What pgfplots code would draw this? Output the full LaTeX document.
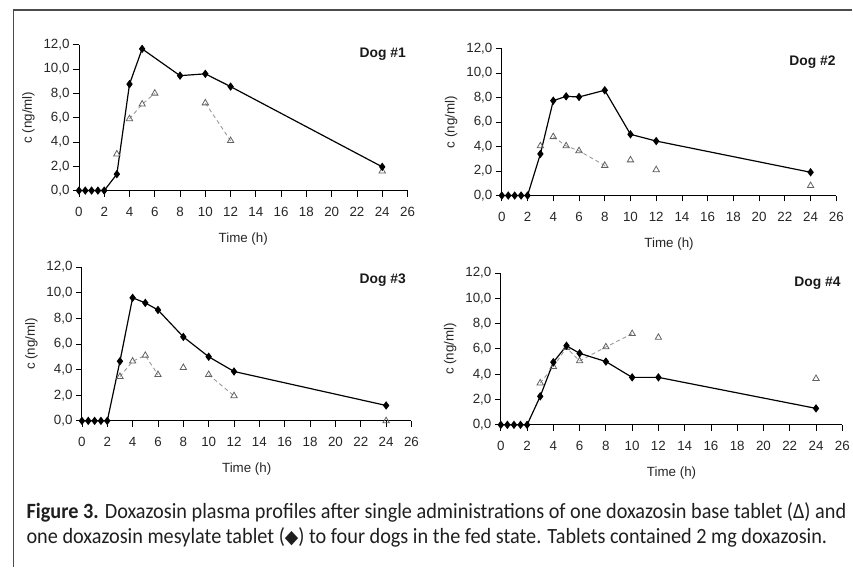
\documentclass[border=0pt]{standalone}
\usepackage{pgfplots}
\usepackage{pgfplotstable}
\pgfplotsset{compat=1.18}
\usepackage{fontspec}
\setmainfont{Liberation Sans}
\newfontfamily\capfont{Carlito}
\newfontfamily\symfont{DejaVu Sans}

% t = time (h), mes = mesylate tablet, base = base tablet, bl = visible parts of the base line
\pgfplotstableread{
t   mes   base  bl
0   0     nan   nan
0.5 0     nan   nan
1   0     nan   nan
1.5 0     nan   nan
2   0     nan   nan
3   1.35  3.0   nan
4   8.75  5.9   5.9
5   11.65 7.1   7.1
6   nan   8.0   8.0
8   9.45  nan   nan
10  9.6   7.2   7.2
12  8.55  4.1   4.1
24  1.95  1.6   nan
}\dogone
\pgfplotstableread{
t   mes   base  bl
0   0     nan   nan
0.5 0     nan   nan
1   0     nan   nan
1.5 0     nan   nan
2   0     nan   nan
3   3.4   4.05  nan
4   7.75  4.8   4.8
5   8.1   4.05  4.05
6   8.05  3.65  3.65
8   8.6   2.45  2.45
10  5.0   2.9   nan
12  4.45  2.1   nan
24  1.9   0.8   nan
}\dogtwo
\pgfplotstableread{
t   mes   base  bl
0   0     nan   nan
0.5 0     nan   nan
1   0     nan   nan
1.5 0     nan   nan
2   0     nan   nan
3   4.65  3.45  3.45
4   9.6   4.65  4.65
5   9.2   5.1   5.1
6   8.65  3.6   3.6
8   6.55  4.15  nan
10  5.0   3.6   3.6
12  3.85  1.95  1.95
24  1.2   0.0   nan
}\dogthree
\pgfplotstableread{
t   mes   base  bl
0   0     nan   nan
0.5 0     nan   nan
1   0     nan   nan
1.5 0     nan   nan
2   0     nan   nan
3   2.25  3.3   3.3
4   4.95  4.6   4.6
5   6.25  6.1   6.1
6   5.65  5.05  5.05
8   5.0   6.15  6.15
10  3.75  7.2   7.2
12  3.75  6.9   nan
24  1.3   3.65  nan
}\dogfour

\pgfplotsset{
  dog/.style={
    scale only axis, anchor=south west,
    xmin=0, xmax=26, ymin=0, ymax=12,
    xtick={0,2,...,26}, ytick={0,2,...,12},
    axis lines=left, axis line style={-, line width=0.9bp},
    tick align=outside, major tick length=6bp,
    tick style={black, line width=0.8bp},
    clip=false,
    ticklabel style={font=\fontsize{13.5}{13.5}\selectfont, text=black!85},
    x tick label style={/pgf/number format/assume math mode=true, yshift=-7bp},
    y tick label style={/pgf/number format/.cd, fixed, fixed zerofill, precision=1, use comma, assume math mode=true},
    xlabel={Time (h)}, ylabel={c (ng/ml)},
    every axis x label/.style={at={(axis description cs:0.5,0)}, anchor=center, yshift=-49bp,
      font=\fontsize{13.5}{13.5}\selectfont, text=black!85},
    every axis y label/.style={at={(axis description cs:0,0.5)}, anchor=center, xshift=-51bp, rotate=90,
      font=\fontsize{13.5}{13.5}\selectfont, text=black!85},
  },
  mes/.style={black, line width=1.2bp, mark=diamond*, mark size=3.3bp},
  base/.style={only marks, mark=triangle, mark size=3.7bp, draw=black!62, mark options={line width=0.8bp}},
  bl/.style={no marks, black!40, dash pattern=on 4bp off 3bp, line width=0.9bp, unbounded coords=jump},
}

\newlength\capw
\newcommand\capA{\textbf{Figure 3.} Doxazosin plasma profiles after single administrations of one doxazosin base tablet (Δ) and}
\newcommand\capB{one doxazosin mesylate tablet ({\symfont\fontsize{19}{19}\selectfont ◆}) to four dogs in the fed state. Tablets contained 2 mg doxazosin.}

\begin{document}
\settowidth\capw{\capfont\fontsize{22}{22}\selectfont\capA}
\pgfmathsetmacro\capsx{829.07/\capw}
\begin{tikzpicture}[x=1bp, y=1bp]
\path (0,0) rectangle (853,571);
\draw[black!70, line width=1.3bp] (8,0) -- (8,561) -- (853,561);

\begin{axis}[dog, at={(74bp,379bp)}, width=331bp, height=147bp]
\addplot[bl] table[x=t, y=bl] {\dogone};
\addplot[base] table[x=t, y=base] {\dogone};
\addplot[mes] table[x=t, y=mes] {\dogone};
\end{axis}

\begin{axis}[dog, at={(500bp,374bp)}, width=337bp, height=148bp]
\addplot[bl] table[x=t, y=bl] {\dogtwo};
\addplot[base] table[x=t, y=base] {\dogtwo};
\addplot[mes] table[x=t, y=mes] {\dogtwo};
\end{axis}

\begin{axis}[dog, at={(77bp,147bp)}, width=332bp, height=155bp]
\addplot[bl] table[x=t, y=bl] {\dogthree};
\addplot[base] table[x=t, y=base] {\dogthree};
\addplot[mes] table[x=t, y=mes] {\dogthree};
\end{axis}

\begin{axis}[dog, at={(499bp,143bp)}, width=344bp, height=153bp]
\addplot[bl] table[x=t, y=bl] {\dogfour};
\addplot[base] table[x=t, y=base] {\dogfour};
\addplot[mes] table[x=t, y=mes] {\dogfour};
\end{axis}

\tikzset{doglbl/.style={font=\bfseries\fontsize{14}{14}\selectfont, text=black!90}}
\node[doglbl] at (380,516) {Dog \#1};
\node[doglbl] at (813,508) {Dog \#2};
\node[doglbl] at (380,289) {Dog \#3};
\node[doglbl] at (818,286) {Dog \#4};

\node[anchor=base west, inner sep=0, text=black!88] at (21,49)
  {\scalebox{\capsx}[1]{\capfont\fontsize{22}{22}\selectfont\capA}};
\node[anchor=base west, inner sep=0, text=black!88] at (21,23)
  {\scalebox{\capsx}[1]{\capfont\fontsize{22}{22}\selectfont\capB}};
\end{tikzpicture}
\end{document}
